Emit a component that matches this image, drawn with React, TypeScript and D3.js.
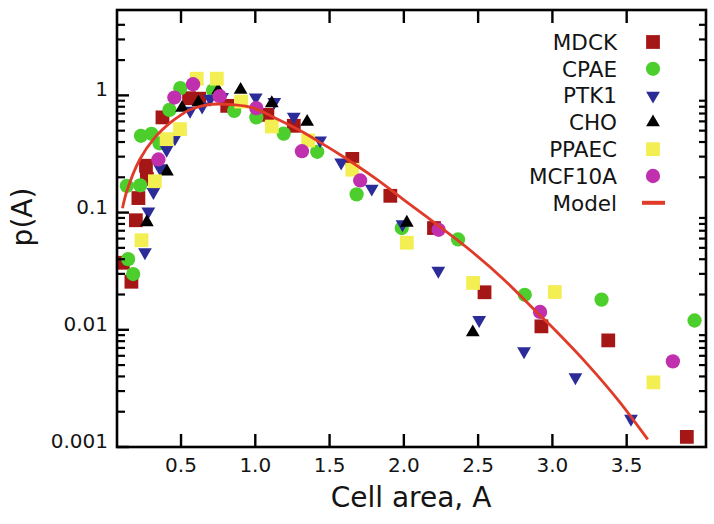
import React from 'react';
import * as d3 from 'd3';

const W = 714;
const H = 524;

// axis data
const xDomain = [0.069, 4.034];
const yDomain = [0.001, 5.35];
const xTicks = [0.5, 1.0, 1.5, 2.0, 2.5, 3.0, 3.5];
const xTickLabels = ['0.5', '1.0', '1.5', '2.0', '2.5', '3.0', '3.5'];
const yTicks = [0.001, 0.01, 0.1, 1];
const yTickLabels = ['0.001', '0.01', '0.1', '1'];
const yMinorTicks = [
  0.002, 0.003, 0.004, 0.005, 0.006, 0.007, 0.008, 0.009,
  0.02, 0.03, 0.04, 0.05, 0.06, 0.07, 0.08, 0.09,
  0.2, 0.3, 0.4, 0.5, 0.6, 0.7, 0.8, 0.9,
  2, 3, 4,
];

// series data (A, p(A))
const mdckA = [0.108, 0.166, 0.196, 0.213, 0.264, 0.270, 0.375, 0.554, 0.622, 0.811, 1.081, 1.259, 1.653, 1.909, 2.203, 2.543, 2.926, 3.376, 3.905];
const mdckP = [0.0373, 0.0257, 0.086, 0.133, 0.251, 0.194, 0.649, 0.946, 0.937, 0.814, 0.682, 0.55, 0.287, 0.139, 0.0738, 0.0209, 0.0107, 0.00812, 0.00122];

const cpaeA = [0.144, 0.178, 0.135, 0.225, 0.230, 0.301, 0.355, 0.422, 0.495, 0.716, 0.858, 1.007, 1.191, 1.417, 1.682, 1.986, 2.365, 2.814, 3.331, 3.957];
const cpaeP = [0.0401, 0.0299, 0.169, 0.171, 0.452, 0.47, 0.39, 0.752, 1.152, 1.103, 0.738, 0.649, 0.472, 0.33, 0.143, 0.0738, 0.059, 0.0199, 0.0181, 0.012];

const ptk1A = [0.257, 0.280, 0.314, 0.358, 0.403, 0.459, 0.561, 0.642, 0.696, 0.777, 1.003, 1.128, 1.259, 1.436, 1.578, 1.784, 1.991, 2.232, 2.507, 2.809, 3.155, 3.529];
const ptk1P = [0.0459, 0.102, 0.15, 0.239, 0.343, 0.43, 0.738, 0.803, 0.934, 0.971, 0.961, 0.88, 0.656, 0.413, 0.267, 0.16, 0.0795, 0.0319, 0.0121, 0.00655, 0.00393, 0.00174];

const choA = [0.270, 0.405, 0.507, 0.617, 0.750, 0.901, 1.111, 1.349, 2.020, 2.464];
const choP = [0.0827, 0.224, 0.782, 0.872, 1.103, 1.114, 0.858, 0.594, 0.0819, 0.0095];

const ppaecA = [0.234, 0.324, 0.403, 0.493, 0.606, 0.741, 0.905, 1.111, 1.356, 1.653, 2.020, 2.466, 3.016, 3.680];
const ppaecP = [0.0581, 0.185, 0.423, 0.515, 1.388, 1.388, 0.885, 0.542, 0.412, 0.232, 0.0553, 0.0251, 0.021, 0.00356];

const mcfA = [0.348, 0.455, 0.581, 0.760, 1.007, 1.314, 1.706, 2.234, 2.917, 3.811];
const mcfP = [0.284, 0.958, 1.246, 0.984, 0.778, 0.334, 0.188, 0.0713, 0.0142, 0.00538];

const modelA = [0.106, 0.135, 0.223, 0.326, 0.428, 0.493, 0.552, 0.628, 0.709, 0.86, 0.988, 1.147, 1.316, 1.461, 1.574, 1.811, 2.002, 2.228, 2.453, 2.678, 2.903, 3.016, 3.241, 3.444, 3.642];
const modelP = [0.109, 0.152, 0.285, 0.44, 0.585, 0.672, 0.745, 0.805, 0.84, 0.83, 0.78, 0.63, 0.49, 0.38, 0.31, 0.195, 0.128, 0.078, 0.047, 0.0265, 0.0138, 0.01, 0.005, 0.0025, 0.00116];

const seriesNames = ['MDCK', 'CPAE', 'PTK1', 'CHO', 'PPAEC', 'MCF10A'];
const modelName = 'Model';

const colors = {
  MDCK: '#a51616',
  CPAE: '#4ccf2c',
  PTK1: '#2b2c98',
  CHO: '#000000',
  PPAEC: '#f3ee52',
  MCF10A: '#c02fae',
  Model: '#e03a28',
};

type Shape = 'square' | 'circle' | 'down' | 'up';
const shapes: Record<string, Shape> = {
  MDCK: 'square',
  CPAE: 'circle',
  PTK1: 'down',
  CHO: 'up',
  PPAEC: 'square',
  MCF10A: 'circle',
};

const seriesData: Record<string, [number[], number[]]> = {
  MDCK: [mdckA, mdckP],
  CPAE: [cpaeA, cpaeP],
  PTK1: [ptk1A, ptk1P],
  CHO: [choA, choP],
  PPAEC: [ppaecA, ppaecP],
  MCF10A: [mcfA, mcfP],
};

function symbolPath(shape: Shape) {
  if (shape === 'square') return d3.symbol().type(d3.symbolSquare).size(190)() as string;
  if (shape === 'circle') return d3.symbol().type(d3.symbolCircle).size(160)() as string;
  return d3.symbol().type(d3.symbolTriangle).size(82)() as string;
}

export default function App() {
  const left = 117, right = 706, top = 10, bottom = 447;
  const x = d3.scaleLinear().domain(xDomain).range([left, right]);
  const y = d3.scaleLog().domain(yDomain).range([bottom, top]);
  const font = 'DejaVu Sans, Verdana, sans-serif';
  const textColor = '#141414';

  const line = d3
    .line<number>()
    .x((_, i) => x(modelA[i]))
    .y((_, i) => y(modelP[i]))
    .curve(d3.curveCatmullRom.alpha(0.5));

  const legendX = 617;
  const legendMarkX = 653;
  const legendY0 = 42;
  const legendDy = 26.8;

  return (
    <svg
      width={W}
      height={H}
      style={{ position: 'absolute', left: 0, top: 0, background: '#fff' }}
      fontFamily={font}
    >
      <rect x={0} y={0} width={W} height={H} fill="#fff" />

      {/* data points */}
      {seriesNames.map((name) => {
        const [as, ps] = seriesData[name];
        const shape = shapes[name];
        const d = symbolPath(shape);
        return (
          <g key={name} fill={colors[name as keyof typeof colors]}>
            {as.map((a, i) => (
              <path
                key={i}
                d={d}
                transform={`translate(${x(a)},${y(ps[i])})${shape === 'down' ? ' rotate(180)' : ''}`}
              />
            ))}
          </g>
        );
      })}

      {/* model */}
      <path d={line(modelA) as string} fill="none" stroke={colors.Model} strokeWidth={2.8} strokeLinejoin="round" />

      {/* frame */}
      <rect x={left} y={top} width={right - left} height={bottom - top} fill="none" stroke="#000" strokeWidth={2.6} />

      {/* x ticks bottom & top */}
      {xTicks.map((t, i) => (
        <g key={'xt' + i}>
          <line x1={x(t)} x2={x(t)} y1={bottom} y2={bottom - 13} stroke="#000" strokeWidth={2.4} />
          <line x1={x(t)} x2={x(t)} y1={top} y2={top + 13} stroke="#000" strokeWidth={2.4} />
          <text x={x(t)} y={472} textAnchor="middle" fontSize={20} fill={textColor}>
            {xTickLabels[i]}
          </text>
        </g>
      ))}

      {/* y major ticks */}
      {yTicks.map((t, i) => (
        <g key={'yt' + i}>
          <line x1={left} x2={left + 12} y1={y(t)} y2={y(t)} stroke="#000" strokeWidth={2.4} />
          <text x={108} y={y(t) + 1} textAnchor="end" fontSize={20} fill={textColor}>
            {yTickLabels[i]}
          </text>
        </g>
      ))}

      {/* y minor ticks */}
      {yMinorTicks.map((t, i) => (
        <g key={'ym' + i}>
          <line x1={left} x2={left + 8} y1={y(t)} y2={y(t)} stroke="#000" strokeWidth={2.2} />
          <line x1={right} x2={right - 7} y1={y(t)} y2={y(t)} stroke="#000" strokeWidth={2.2} />
        </g>
      ))}

      {/* axis titles */}
      <text x={411} y={507} textAnchor="middle" fontSize={28} fill={textColor}>
        Cell area, A
      </text>
      <text
        transform={`translate(32,217) rotate(-90)`}
        textAnchor="middle"
        fontSize={28}
        fill={textColor}
      >
        p(A)
      </text>

      {/* legend */}
      {seriesNames.map((name, i) => {
        const ly = legendY0 + i * legendDy;
        const shape = shapes[name];
        return (
          <g key={'lg' + name}>
            <text x={legendX} y={ly} dy="0.36em" textAnchor="end" fontSize={21.5} fill={textColor}>
              {name}
            </text>
            <path
              d={symbolPath(shape)}
              fill={colors[name as keyof typeof colors]}
              transform={`translate(${legendMarkX},${ly})${shape === 'down' ? ' rotate(180)' : ''}`}
            />
          </g>
        );
      })}
      <g>
        <text x={legendX} y={legendY0 + 6 * legendDy} dy="0.36em" textAnchor="end" fontSize={21.5} fill={textColor}>
          {modelName}
        </text>
        <line
          x1={legendMarkX - 11}
          x2={legendMarkX + 12}
          y1={legendY0 + 6 * legendDy}
          y2={legendY0 + 6 * legendDy}
          stroke={colors.Model}
          strokeWidth={4}
        />
      </g>
    </svg>
  );
}
